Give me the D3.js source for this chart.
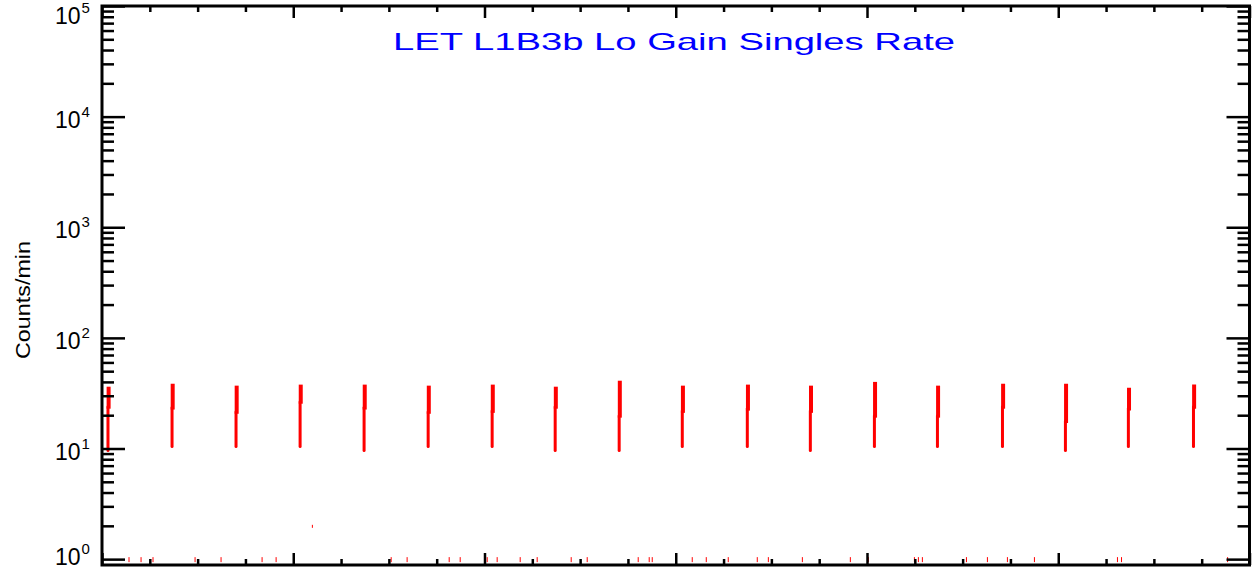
<!DOCTYPE html>
<html lang="en">
    <head>
        <meta charset="utf-8"/>
        <script src="https://d3js.org/d3.v7.min.js"></script>
        <style>
            body { margin: 0; background: #fff; }
            text { font-family: "Liberation Sans", "DejaVu Sans", sans-serif; }
        </style>
    </head>
    <body>
        <div id="chart"></div>
    </body>
    <script>
        // hours since start of the plotted window (6 days)
        var spikeHours = [0.75, 8.79, 16.82, 24.86, 32.89, 40.93, 48.96, 56.87, 64.9,
                          72.82, 80.98, 88.89, 96.93, 104.84, 113.0, 120.9, 128.8, 136.97];
        var spikeLow  = [9.6, 10.4, 10.4, 10.4, 9.6, 10.4, 10.4, 9.6, 9.6,
                         10.4, 10.4, 9.6, 10.4, 10.4, 10.4, 9.6, 10.4, 10.4];
        var spikeKink = [22.9, 22.5, 20.6, 25.4, 22.5, 20.6, 21, 22.9, 19,
                         21, 22, 21, 19, 19, 22.9, 17, 22, 22.9];
        var spikeHigh = [36.2, 38.5, 37, 37.8, 37.8, 37, 37.8, 36.2, 41,
                         37, 37.8, 37, 40, 37, 38.5, 38.5, 35.5, 37.8];

        // single low counts near 1/min
        var lowHours = [3.39, 4.9, 6.4, 11.68, 14.94, 20.09, 21.85, 36.29, 38.29, 43.57,
                        44.95, 48.34, 49.59, 52.48, 54.61, 58.88, 60.89, 67.29, 68.67, 69.05,
                        74.07, 75.83, 78.59, 82.23, 83.62, 87.89, 93.91, 96.17, 101.95, 102.45,
                        102.95, 108.48, 111.11, 113.62, 117.01, 127.43, 127.94, 141.25];
        var lowCounts = [1, 1, 1, 1, 1, 1, 1, 1, 1, 1, 1, 1, 1, 1, 1, 1, 1, 1, 1, 1,
                         1, 1, 1, 1, 1, 1, 1, 1, 1, 1, 1, 1, 1, 1, 1, 1, 1, 1];
        var oddHours = [26.4];
        var oddCounts = [2.0];

        var xMajor = [0, 24, 48, 72, 96, 120, 144];
        var xMinor = [6, 12, 18, 30, 36, 42, 54, 60, 66, 78, 84, 90, 102, 108, 114, 126, 132, 138];
        var yMajor = [1, 10, 100, 1000, 10000, 100000];
        var yExp = ["0", "1", "2", "3", "4", "5"];

        var title = "LET L1B3b Lo Gain Singles Rate";
        var yTitle = "Counts/min";

        var W = 1252, H = 571;
        var margin = {top: 6, right: 2.5, bottom: 6, left: 102};
        var pL = margin.left, pR = W - margin.right;
        var pT = margin.top, pB = H - margin.bottom;

        var yMinor = [];
        yMajor.slice(0, -1).forEach(function (d) {
            for (var k = 2; k <= 9; k++) yMinor.push(d * k);
        });

        var svg = d3.select("#chart")
            .append("svg")
                .attr("width", W)
                .attr("height", H);

        var x = d3.scaleLinear()
            .domain([0, 144])
            .range([pL, pR]);

        var y = d3.scaleLog()
            .domain([0.885, 1e5])
            .range([pB, pT]);

        svg.append("defs").append("clipPath")
            .attr("id", "plot")
            .append("rect")
                .attr("x", pL).attr("y", pT)
                .attr("width", pR - pL).attr("height", pB - pT);

        var data = svg.append("g").attr("clip-path", "url(#plot)");

        // low single counts, drawn down to the (clipped) bottom
        data.selectAll(".low")
            .data(lowHours)
            .enter()
            .append("line")
                .attr("x1", function (d) { return x(d); })
                .attr("x2", function (d) { return x(d); })
                .attr("y1", function (d, i) { return y(lowCounts[i]) - 2; })
                .attr("y2", function (d, i) { return y(lowCounts[i]) + 3; })
                .attr("stroke", "#ff0000")
                .attr("stroke-width", 1);

        data.selectAll(".odd")
            .data(oddHours)
            .enter()
            .append("line")
                .attr("x1", function (d) { return x(d); })
                .attr("x2", function (d) { return x(d); })
                .attr("y1", function (d, i) { return y(oddCounts[i]) - 1; })
                .attr("y2", function (d, i) { return y(oddCounts[i]) + 2; })
                .attr("stroke", "#ff0000")
                .attr("stroke-width", 1);

        // the 8-hourly bursts: thin lower part, thicker upper part
        data.selectAll(".spikeLo")
            .data(spikeHours)
            .enter()
            .append("line")
                .attr("x1", function (d) { return x(d); })
                .attr("x2", function (d) { return x(d); })
                .attr("y1", function (d, i) { return y(spikeLow[i]); })
                .attr("y2", function (d, i) { return y(spikeKink[i]) - 2; })
                .attr("stroke", "#ff0000")
                .attr("stroke-width", 3)
                .attr("stroke-linecap", "round");

        data.selectAll(".spikeHi")
            .data(spikeHours)
            .enter()
            .append("line")
                .attr("x1", function (d) { return x(d + 0.08); })
                .attr("x2", function (d) { return x(d + 0.08); })
                .attr("y1", function (d, i) { return y(spikeKink[i]); })
                .attr("y2", function (d, i) { return y(spikeHigh[i]); })
                .attr("stroke", "#ff0000")
                .attr("stroke-width", 4);

        // axes, IDL style: ticks on all four sides pointing inward
        function styleAxis(g) {
            g.select(".domain").remove();
            g.selectAll("line").attr("stroke", "#000").attr("stroke-width", 2.5);
            g.selectAll("text").remove();
        }

        svg.append("g").attr("transform", "translate(0," + pB + ")")
            .call(d3.axisBottom(x).tickValues(xMajor).tickSize(-12)).call(styleAxis);
        svg.append("g").attr("transform", "translate(0," + pB + ")")
            .call(d3.axisBottom(x).tickValues(xMinor).tickSize(-6)).call(styleAxis);
        svg.append("g").attr("transform", "translate(0," + pT + ")")
            .call(d3.axisTop(x).tickValues(xMajor).tickSize(-12)).call(styleAxis);
        svg.append("g").attr("transform", "translate(0," + pT + ")")
            .call(d3.axisTop(x).tickValues(xMinor).tickSize(-6)).call(styleAxis);

        svg.append("g").attr("transform", "translate(" + pL + ",0)")
            .call(d3.axisLeft(y).tickValues(yMajor).tickSize(-23)).call(styleAxis);
        svg.append("g").attr("transform", "translate(" + pL + ",0)")
            .call(d3.axisLeft(y).tickValues(yMinor).tickSize(-12)).call(styleAxis);
        svg.append("g").attr("transform", "translate(" + pR + ",0)")
            .call(d3.axisRight(y).tickValues(yMajor).tickSize(-23)).call(styleAxis);
        svg.append("g").attr("transform", "translate(" + pR + ",0)")
            .call(d3.axisRight(y).tickValues(yMinor).tickSize(-12)).call(styleAxis);

        // frame
        svg.append("rect")
            .attr("x", pL).attr("y", pT)
            .attr("width", pR - pL).attr("height", pB - pT)
            .attr("fill", "none")
            .attr("stroke", "#000")
            .attr("stroke-width", 3);

        // y tick labels 10^n
        var lab = svg.selectAll(".ylab")
            .data(yMajor)
            .enter()
            .append("text")
                .attr("x", 55)
                .attr("y", function (d) { return Math.min(565, Math.max(24, y(d) + 11)); })
                .attr("font-size", 23)
                .attr("fill", "#000");
        lab.append("tspan").text("10");
        lab.append("tspan")
            .attr("font-size", 15)
            .attr("dx", 1)
            .attr("dy", -11)
            .text(function (d, i) { return yExp[i]; });

        svg.append("text")
            .attr("transform", "translate(30," + 300 + ") rotate(-90)")
            .attr("text-anchor", "middle")
            .attr("font-size", 21)
            .attr("textLength", 118)
            .attr("lengthAdjust", "spacingAndGlyphs")
            .attr("fill", "#000")
            .text(yTitle);

        svg.append("text")
            .attr("x", 674)
            .attr("y", 50)
            .attr("text-anchor", "middle")
            .attr("font-size", 24)
            .attr("textLength", 562)
            .attr("lengthAdjust", "spacingAndGlyphs")
            .attr("fill", "#0000ff")
            .text(title);
    </script>
</html>
